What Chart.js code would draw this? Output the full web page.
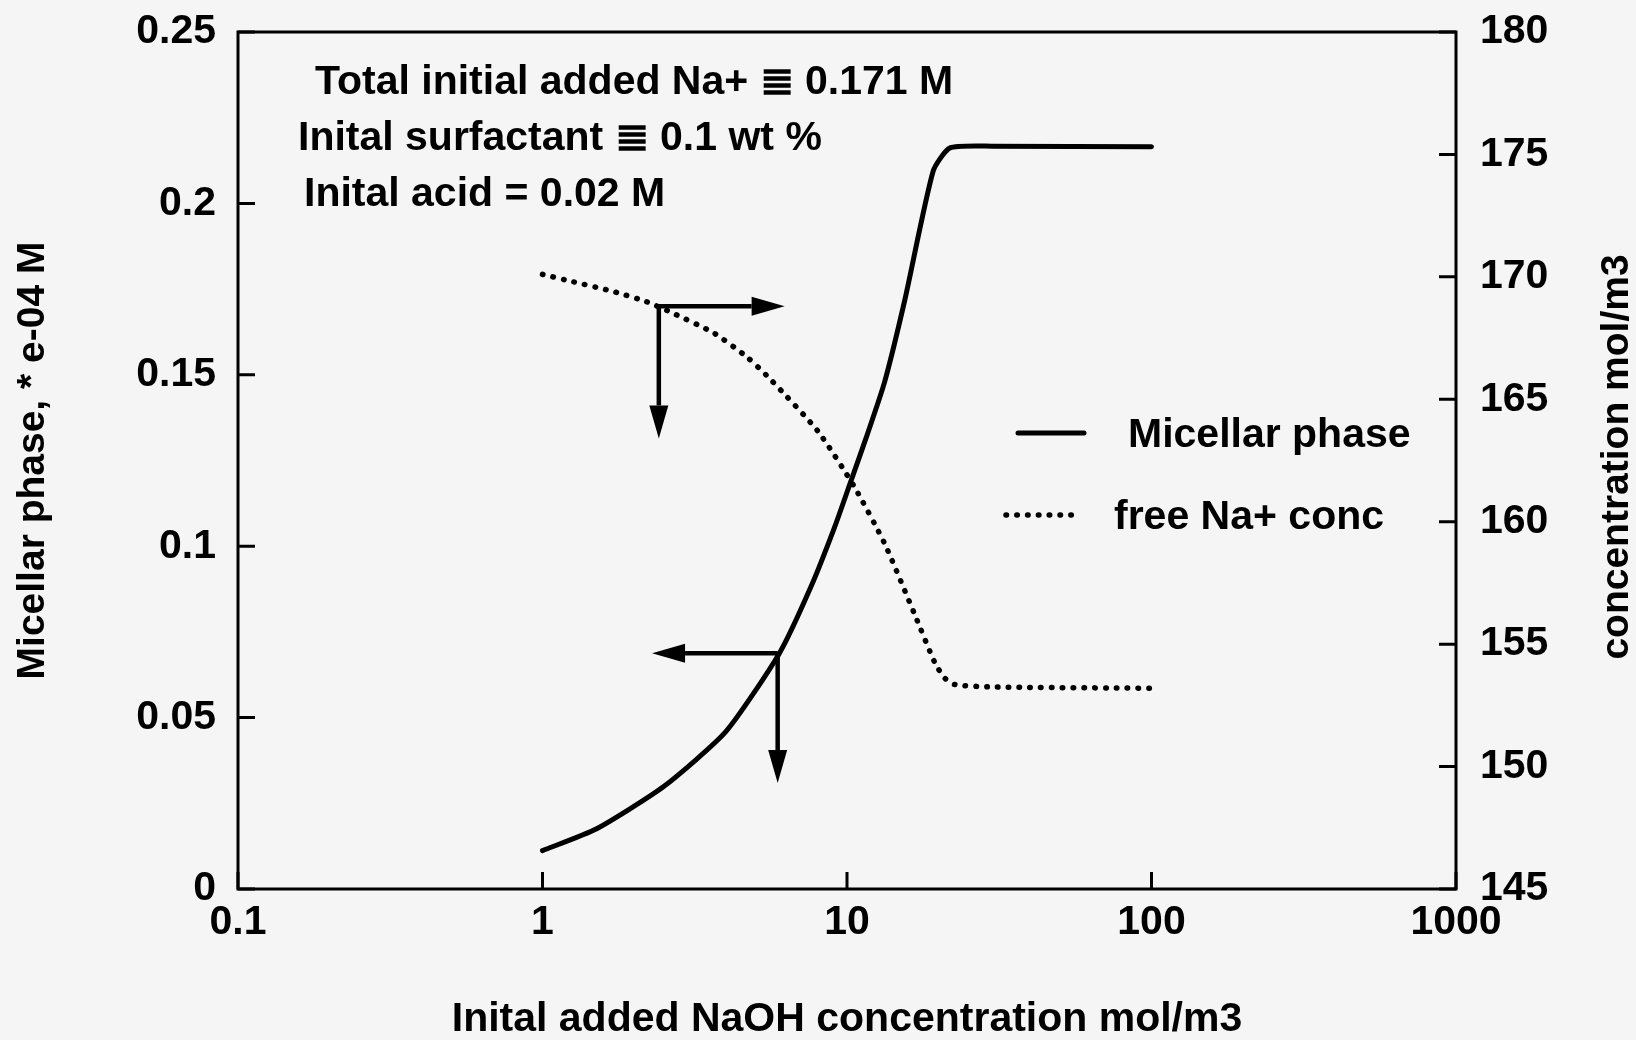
<!DOCTYPE html>
<html>
<head>
<meta charset="utf-8">
<script src="https://cdn.jsdelivr.net/npm/chart.js@4.4.1/dist/chart.umd.min.js"></script>
<style>
  html, body { margin: 0; padding: 0; background: #f5f5f5; }
  #wrap { width: 1636px; height: 1040px; }
</style>
</head>
<body>
<div id="wrap"><canvas id="c" width="1636" height="1040"></canvas></div>
<script>
// Micellar phase (left axis, * e-04 M) against initial added NaOH (mol/m3)
const naohMicellar = [1, 1.5, 2.5, 4, 6, 7.6, 9.1, 10.3, 11.7, 13.3, 15.5, 19.2, 21.8, 30, 100];
const micellarPhase = [0.0112, 0.0175, 0.0299, 0.0459, 0.0688, 0.088, 0.1055, 0.119, 0.133, 0.148, 0.172, 0.2095, 0.2162, 0.2167, 0.2165];

// Free Na+ concentration (right axis, mol/m3)
const naohFree = [1, 1.26, 1.71, 2.18, 2.7, 3.66, 4.72, 5.62, 8.02, 10.6, 13.3, 16.7, 19.5, 21, 22.6, 30, 100];
const freeNa = [170.1, 169.8, 169.4, 169.0, 168.5, 167.7, 166.7, 165.8, 163.7, 161.4, 159.1, 156.2, 154.2, 153.6, 153.35, 153.25, 153.2];

// Tick values
const xTicks = [0.1, 1, 10, 100, 1000];
const yLeftTicks = [0, 0.05, 0.1, 0.15, 0.2, 0.25];
const yLeftLabels = ['0', '0.05', '0.1', '0.15', '0.2', '0.25'];
const yRightTicks = [145, 150, 155, 160, 165, 170, 175, 180];

// Conditions printed inside the frame
const noteLines = [
  'Total initial added Na+ \u2263 0.171 M',
  'Inital surfactant \u2263 0.1 wt %',
  'Inital acid = 0.02 M'
];

// Reading arrows: corner on a curve, horizontal tip, vertical tip (data units)
const arrowFree = { axis: 'y2', x: 2.41, y: 168.8, xTip: 6.24, yTip: 163.4 };
const arrowMicellar = { axis: 'y', x: 5.92, y: 0.0688, xTip: 2.29, yTip: 0.0309 };

const FONT = '"Liberation Sans", Arial, Helvetica, sans-serif';
const INK = '#000000';
const bold41 = { family: FONT, size: 41, weight: 'bold' };

const pts = (xs, ys) => xs.map((x, i) => ({ x, y: ys[i] }));
const noPad = s => { s.paddingTop = 0; s.paddingBottom = 0; s.paddingLeft = 0; s.paddingRight = 0; };

const decorations = {
  id: 'decorations',
  beforeDraw(chart) {
    const ctx = chart.ctx;
    ctx.save();
    ctx.fillStyle = '#f5f5f5';
    ctx.fillRect(0, 0, chart.width, chart.height);
    ctx.restore();
  },
  afterDraw(chart) {
    const ctx = chart.ctx;
    const a = chart.chartArea;
    const sx = chart.scales.x, sy = chart.scales.y, sy2 = chart.scales.y2;
    const tick = 17;
    ctx.save();
    ctx.strokeStyle = INK;
    ctx.fillStyle = INK;
    ctx.lineCap = 'butt';

    // frame
    ctx.lineWidth = 3;
    ctx.strokeRect(a.left, a.top, a.right - a.left, a.bottom - a.top);

    // inward tick marks
    ctx.beginPath();
    xTicks.forEach(v => {
      const px = sx.getPixelForValue(v);
      ctx.moveTo(px, a.bottom); ctx.lineTo(px, a.bottom - tick);
    });
    yLeftTicks.forEach(v => {
      const py = sy.getPixelForValue(v);
      ctx.moveTo(a.left, py); ctx.lineTo(a.left + tick, py);
    });
    yRightTicks.forEach(v => {
      const py = sy2.getPixelForValue(v);
      ctx.moveTo(a.right, py); ctx.lineTo(a.right - tick, py);
    });
    ctx.stroke();

    // arrows
    const drawArrow = (x0, y0, x1, y1) => {
      const ang = Math.atan2(y1 - y0, x1 - x0);
      const len = 33, half = 9.5;
      const bx = x1 - Math.cos(ang) * len, by = y1 - Math.sin(ang) * len;
      ctx.lineWidth = 4.5;
      ctx.beginPath();
      ctx.moveTo(x0, y0); ctx.lineTo(bx, by);
      ctx.stroke();
      ctx.beginPath();
      ctx.moveTo(x1, y1);
      ctx.lineTo(bx - Math.sin(ang) * half, by + Math.cos(ang) * half);
      ctx.lineTo(bx + Math.sin(ang) * half, by - Math.cos(ang) * half);
      ctx.closePath();
      ctx.fill();
    };
    [arrowFree, arrowMicellar].forEach(ar => {
      const ys = chart.scales[ar.axis];
      const cx = sx.getPixelForValue(ar.x), cy = ys.getPixelForValue(ar.y);
      drawArrow(cx, cy, sx.getPixelForValue(ar.xTip), cy);
      drawArrow(cx, cy, cx, ys.getPixelForValue(ar.yTip));
    });

    // text block
    ctx.font = 'bold 41px ' + FONT;
    ctx.textBaseline = 'middle';
    ctx.textAlign = 'left';
    const noteX = [315, 298, 304], noteY = [83, 139, 195];
    noteLines.forEach((t, i) => ctx.fillText(t, noteX[i], noteY[i]));

    // legend
    const ds = chart.data.datasets;
    const legendRows = [
      { ds: ds[0], x0: 1018, x1: 1084, y: 433, tx: 1128, ty: 436 },
      { ds: ds[1], x0: 1006, x1: 1072, y: 515, tx: 1114, ty: 518 }
    ];
    legendRows.forEach(r => {
      ctx.save();
      ctx.lineWidth = r.ds.borderWidth;
      ctx.lineCap = r.ds.borderCapStyle || 'butt';
      ctx.setLineDash(r.ds.borderDash || []);
      ctx.beginPath();
      ctx.moveTo(r.x0, r.y); ctx.lineTo(r.x1, r.y);
      ctx.stroke();
      ctx.restore();
      ctx.fillText(r.ds.label, r.tx, r.ty);
    });

    // right axis title, reading upward
    ctx.save();
    ctx.translate(1617, 457);
    ctx.rotate(-Math.PI / 2);
    ctx.textAlign = 'center';
    ctx.font = 'bold 39px ' + FONT;
    ctx.fillText('concentration mol/m3', 0, 0);
    ctx.restore();

    ctx.restore();
  }
};

new Chart(document.getElementById('c'), {
  type: 'line',
  data: {
    datasets: [
      {
        label: 'Micellar phase',
        data: pts(naohMicellar, micellarPhase),
        yAxisID: 'y',
        borderColor: INK,
        borderWidth: 5,
        borderCapStyle: 'round',
        borderJoinStyle: 'round',
        tension: 0.2,
        pointRadius: 0,
        fill: false
      },
      {
        label: 'free Na+ conc',
        data: pts(naohFree, freeNa),
        yAxisID: 'y2',
        borderColor: INK,
        borderWidth: 5.5,
        borderDash: [0.5, 10.3],
        borderCapStyle: 'round',
        tension: 0.2,
        pointRadius: 0,
        fill: false
      }
    ]
  },
  options: {
    responsive: false,
    animation: false,
    layout: { padding: { top: 32, left: 0, right: 0, bottom: 0 } },
    plugins: { legend: { display: false }, tooltip: { enabled: false } },
    scales: {
      x: {
        type: 'logarithmic',
        position: 'bottom',
        min: 0.1, max: 1000,
        afterBuildTicks: s => { s.ticks = xTicks.map(v => ({ value: v })); },
        afterFit: s => { s.height = 151; noPad(s); },
        grid: { display: false, drawTicks: false },
        border: { display: false },
        ticks: {
          color: INK, font: bold41, padding: 9, maxRotation: 0, autoSkip: false,
          callback: v => String(v)
        },
        title: {
          display: true, text: 'Inital added NaOH concentration mol/m3',
          color: INK, font: { family: FONT, size: 41, weight: 'bold', lineHeight: 1.0 },
          padding: { top: 0, bottom: 0 }
        }
      },
      y: {
        position: 'left',
        min: 0, max: 0.25,
        afterBuildTicks: s => { s.ticks = yLeftTicks.map(v => ({ value: v })); },
        afterFit: s => { s.width = 238; noPad(s); },
        grid: { display: false, drawTicks: false },
        border: { display: false },
        ticks: {
          color: INK, font: bold41, padding: 22, autoSkip: false,
          callback: (v) => yLeftLabels[yLeftTicks.findIndex(t => Math.abs(t - v) < 1e-9)]
        },
        title: {
          display: true, text: 'Micellar phase, * e-04 M',
          color: INK, font: { family: FONT, size: 39, weight: 'bold' }, padding: { top: 10, bottom: 0 }
        }
      },
      y2: {
        position: 'right',
        min: 145, max: 180,
        afterBuildTicks: s => { s.ticks = yRightTicks.map(v => ({ value: v })); },
        afterFit: s => { s.width = 180; noPad(s); },
        grid: { display: false, drawTicks: false },
        border: { display: false },
        ticks: { color: INK, font: bold41, padding: 24, autoSkip: false }
      }
    }
  },
  plugins: [decorations]
});
</script>
</body>
</html>
